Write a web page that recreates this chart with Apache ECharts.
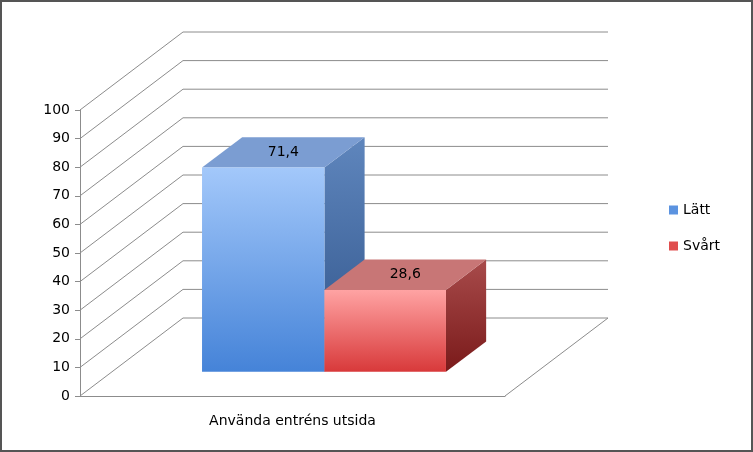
<!DOCTYPE html>
<html><head><meta charset="utf-8">
<script src="https://cdn.jsdelivr.net/npm/echarts@6/dist/echarts.min.js"></script>
<style>html,body{margin:0;padding:0;background:#fff}#c{width:753px;height:452px}</style>
</head><body><div id="c"></div>
<script>
const categories = ['Använda entréns utsida'];
const seriesNames = ['Lätt', 'Svårt'];
const values = [71.4, 28.6];
const yMin = 0, yMax = 100, yInterval = 10;

const DX = 103, DY = -78;           // full depth offset in pixels
const barX = [[0.212, 0.5], [0.5, 0.786]];
const barDepth = [0.31, 0.70];
const faceCols = [
  {front: ['#a3c8fa', '#4583d8'], top: '#7b9dd2', side: ['#5f86bd', '#2f5389']},
  {front: ['#ffa3a3', '#d8393a'], top: '#c87676', side: ['#a84b4b', '#7a1a1a']}
];
const font = 'DejaVu Sans';

function P(api, x, y, t) {
  const c = api.coord([x, y]);
  return [c[0] + DX * t, c[1] + DY * t];
}

function wallsRender(params, api) {
  const ch = [];
  const ls = {stroke: '#8c8c8c', lineWidth: 1};
  for (let v = yMin; v <= yMax; v += yInterval) {
    const a = P(api, 0, v, 0), b = P(api, 0, v, 1), c = P(api, 1, v, 1);
    ch.push({type: 'polyline', shape: {points: [a, b, c]}, style: Object.assign({fill: null}, ls)});
  }
  ch.push({type: 'polyline', shape: {points: [P(api,1,0,0), P(api,1,0,1)]}, style: Object.assign({fill: null}, ls)});
  return {type: 'group', children: ch};
}

function barRender(i) {
  return function (params, api) {
    const v = values[i];
    const [x0, x1] = barX[i];
    const [t0, t1] = barDepth;
    const c = faceCols[i];
    const f = [P(api,x0,0,t0), P(api,x1,0,t0), P(api,x1,v,t0), P(api,x0,v,t0)];
    const top = [P(api,x0,v,t0), P(api,x1,v,t0), P(api,x1,v,t1), P(api,x0,v,t1)];
    const side = [P(api,x1,0,t0), P(api,x1,0,t1), P(api,x1,v,t1), P(api,x1,v,t0)];
    const lg = (a, b, hor) => ({type: 'linear', x: 0, y: 0, x2: hor ? 1 : 0, y2: hor ? 0 : 1,
      colorStops: [{offset: 0, color: a}, {offset: 1, color: b}]});
    const lbl = P(api, (x0 + x1) / 2, v, (t0 + t1) / 2);
    return {type: 'group', children: [
      {type: 'polygon', shape: {points: side}, style: {fill: lg(c.side[0], c.side[1], false)}},
      {type: 'polygon', shape: {points: top}, style: {fill: c.top}},
      {type: 'polygon', shape: {points: f}, style: {fill: lg(c.front[0], c.front[1], false)}},
      {type: 'text', x: lbl[0], y: lbl[1], style: {text: String(v).replace('.', ','),
        fill: '#000', font: '14px ' + font, align: 'center', verticalAlign: 'middle'}}
    ]};
  };
}

const chart = echarts.init(document.getElementById('c'));
chart.setOption({
  animation: false,
  backgroundColor: '#fff',
  graphic: [{type: 'rect', shape: {x: 1, y: 1, width: 751, height: 450},
    style: {fill: null, stroke: '#555', lineWidth: 2}, silent: true}],
  grid: {left: 80, right: 248, top: 110, bottom: 56},
  legend: {orient: 'vertical', left: 664, top: 198, itemGap: 22, itemWidth: 9, itemHeight: 9,
    icon: 'rect', textStyle: {fontFamily: font, fontSize: 14, color: '#000'},
    data: seriesNames},
  xAxis: [
    {type: 'value', min: 0, max: 1, show: false},
    {type: 'category', data: categories, position: 'bottom',
      axisLine: {lineStyle: {color: '#8c8c8c'}}, axisTick: {length: 5, lineStyle: {color: '#8c8c8c'}},
      axisLabel: {margin: 18, color: '#000', fontFamily: font, fontSize: 14}}
  ],
  yAxis: {type: 'value', min: yMin, max: yMax, interval: yInterval,
    axisLine: {show: true, lineStyle: {color: '#8c8c8c'}},
    axisTick: {show: true, length: 5, lineStyle: {color: '#8c8c8c'}},
    splitLine: {show: false},
    axisLabel: {color: '#000', fontFamily: font, fontSize: 14, margin: 10}},
  series: [
    {type: 'custom', xAxisIndex: 0, renderItem: wallsRender, data: [0], silent: true, z: 1},
    {type: 'custom', name: seriesNames[0], xAxisIndex: 0, renderItem: barRender(0), data: [values[0]],
      itemStyle: {color: '#5b93e0'}, z: 2},
    {type: 'custom', name: seriesNames[1], xAxisIndex: 0, renderItem: barRender(1), data: [values[1]],
      itemStyle: {color: '#e04e4e'}, z: 3}
  ]
});
</script></body></html>
